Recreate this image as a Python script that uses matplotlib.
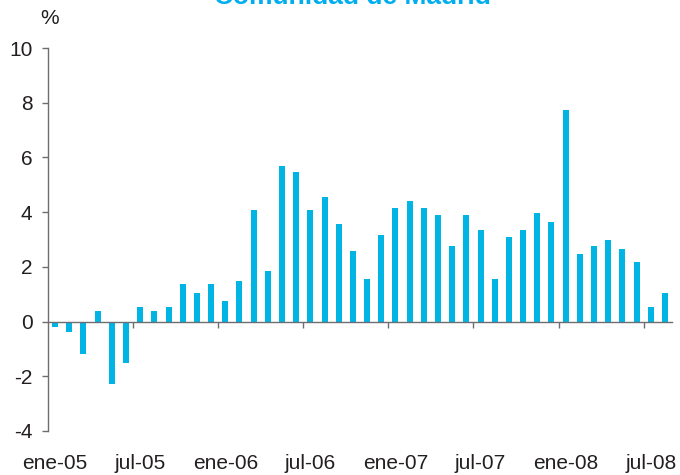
import matplotlib
matplotlib.use("Agg")
import matplotlib.pyplot as plt
import numpy as np

plt.rcParams['font.family'] = ['Liberation Sans', 'DejaVu Sans']
plt.rcParams['axes.unicode_minus'] = False

months = ['ene-05', 'feb-05', 'mar-05', 'abr-05', 'may-05', 'jun-05',
          'jul-05', 'ago-05', 'sep-05', 'oct-05', 'nov-05', 'dic-05',
          'ene-06', 'feb-06', 'mar-06', 'abr-06', 'may-06', 'jun-06',
          'jul-06', 'ago-06', 'sep-06', 'oct-06', 'nov-06', 'dic-06',
          'ene-07', 'feb-07', 'mar-07', 'abr-07', 'may-07', 'jun-07',
          'jul-07', 'ago-07', 'sep-07', 'oct-07', 'nov-07', 'dic-07',
          'ene-08', 'feb-08', 'mar-08', 'abr-08', 'may-08', 'jun-08',
          'jul-08', 'ago-08']
values = [-0.21, -0.39, -1.2, 0.39, -2.3, -1.5,
          0.55, 0.38, 0.55, 1.37, 1.04, 1.37,
          0.74, 1.48, 4.08, 1.85, 5.69, 5.46,
          4.08, 4.57, 3.58, 2.58, 1.55, 3.15,
          4.14, 4.40, 4.14, 3.88, 2.77, 3.88,
          3.34, 1.55, 3.09, 3.34, 3.96, 3.65,
          7.73, 2.47, 2.77, 2.97, 2.65, 2.17,
          0.55, 1.04]
label_months = ['ene-05', 'jul-05', 'ene-06', 'jul-06', 'ene-07', 'jul-07', 'ene-08', 'jul-08']
yticks = [-4, -2, 0, 2, 4, 6, 8, 10]
title = 'Comunidad de Madrid'

bar_color = '#00B4E4'
axis_color = '#6D6E71'
text_color = '#231F20'

fig = plt.figure(figsize=(6.8, 4.75), dpi=100)
ax = fig.add_axes([48/680, 44/475, 624/680, 383/475])

x = np.arange(len(months))
ax.bar(x, values, width=0.42, color=bar_color, zorder=2)

ax.set_xlim(-0.5, len(months) - 0.5)
ax.set_ylim(-4, 10)
ax.set_yticks(yticks)
ax.set_yticklabels([str(v) for v in yticks])

for s in ['top', 'right']:
    ax.spines[s].set_visible(False)
ax.spines['bottom'].set_position(('data', 0))
ax.spines['bottom'].set_color(axis_color)
ax.spines['left'].set_color(axis_color)
ax.spines['bottom'].set_linewidth(1.0)
ax.spines['left'].set_linewidth(1.0)

# major ticks at half-year boundaries
label_idx = [months.index(m) for m in label_months]
boundaries = [i - 0.5 for i in label_idx if i > 0]
ax.set_xticks(boundaries)
ax.set_xticklabels([''] * len(boundaries))
ax.set_xticks(label_idx, minor=True)
ax.set_xticklabels(label_months, minor=True)
ax.tick_params(axis='x', which='major', direction='out', length=4.2, width=1.0, color=axis_color)
ax.tick_params(axis='x', which='minor', length=0, pad=95, labelsize=15, labelcolor=text_color)
ax.tick_params(axis='y', direction='out', length=4.2, width=1.0, color=axis_color,
               labelsize=15, labelcolor=text_color, pad=7)

fig.text(50/680, 1 - 19/475, '%', ha='center', va='center', fontsize=15, color=text_color)
fig.text(352/680, 1 - 4/475, title, ha='center', va='baseline', fontsize=19,
         fontweight='bold', color='#00AEEF')

fig.savefig('out.png', dpi=100)
